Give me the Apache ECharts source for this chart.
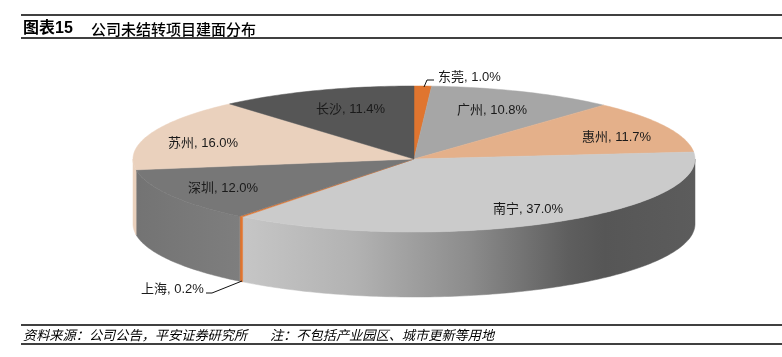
<!DOCTYPE html>
<html>
<head>
<meta charset="utf-8">
<style>
  html, body { margin: 0; padding: 0; background: #fff; }
  #chart { width: 782px; height: 357px; }
</style>
<script src="https://cdn.jsdelivr.net/npm/echarts@6/dist/echarts.min.js"></script>
</head>
<body>
<div id="chart"></div>
<script>
const cities = ['东莞', '广州', '惠州', '南宁', '上海', '深圳', '苏州', '长沙'];
const shares = [1.0, 10.8, 11.7, 37.0, 0.2, 12.0, 16.0, 11.4];

const colors = ['#E0752F', '#A6A6A6', '#E4B08A', '#CBCBCB', '#E0752F', '#777777', '#EAD1BD', '#565656'];
// label position, left edge and vertical middle of the text
const labelPos = [[438, 77], [457, 110], [582, 137], [493, 209], [141, 289], [188, 188], [168, 143], [316, 109]];
const leaders = { 0: [[424, 87], [427, 80], [434, 80]], 4: [[242, 281], [212, 293], [206, 293]] };
const depth = 65;
const labelFont = '13px "Liberation Sans", "Noto Sans CJK SC", sans-serif';

const total = shares.reduce((a, b) => a + b, 0);
let run = 0;
const slices = shares.map((v) => {
  const from = run / total * 360;
  run += v;
  return [from, run / total * 360];
});

const rad = (d) => d * Math.PI / 180;
const rim = (api, deg) => api.coord([Math.sin(rad(deg)), Math.cos(rad(deg))]);
const arc = (api, a, b) => {
  const pts = [];
  const n = Math.max(2, Math.ceil(Math.abs(b - a)));
  for (let i = 0; i <= n; i++) pts.push(rim(api, a + (b - a) * i / n));
  return pts;
};

const wallFill = (i, api) => {
  if (i === 3) {
    const l = rim(api, slices[3][1])[0];
    const r = rim(api, 90)[0];
    return new echarts.graphic.LinearGradient(l, 0, r, 0, [
      { offset: 0, color: '#C6C6C6' },
      { offset: 0.25, color: '#B2B2B2' },
      { offset: 0.5, color: '#8C8C8C' },
      { offset: 0.72, color: '#5E5E5E' },
      { offset: 0.8, color: '#565656' },
      { offset: 1, color: '#5C5C5C' }
    ], true);
  }
  if (i === 5) {
    const l = rim(api, 270)[0];
    const r = rim(api, slices[5][0])[0];
    return new echarts.graphic.LinearGradient(l, 0, r, 0, [
      { offset: 0, color: '#737373' },
      { offset: 1, color: '#7E7E7E' }
    ], true);
  }
  return colors[i];
};

const renderWall = (params, api) => {
  const i = params.dataIndex;
  const a = Math.max(api.value(0), 90);
  const b = Math.min(api.value(1), 270);
  if (b <= a) return null;
  const top = arc(api, a, b);
  const bottom = top.slice().reverse().map((p) => [p[0], p[1] + depth]);
  const fill = wallFill(i, api);
  return {
    type: 'polygon',
    shape: { points: top.concat(bottom) },
    style: { fill: fill, stroke: fill, lineWidth: 0.5 }
  };
};

const renderTop = (params, api) => {
  const i = params.dataIndex;
  const pts = [api.coord([0, 0])].concat(arc(api, api.value(0), api.value(1)));
  const children = [{
    type: 'polygon',
    shape: { points: pts },
    style: { fill: colors[i], stroke: colors[i], lineWidth: 0.5 }
  }];
  if (leaders[i]) {
    children.push({
      type: 'polyline',
      shape: { points: leaders[i] },
      style: { fill: null, stroke: '#111', lineWidth: 1 }
    });
  }
  children.push({
    type: 'text',
    style: {
      text: cities[i] + ', ' + shares[i].toFixed(1) + '%',
      x: labelPos[i][0],
      y: labelPos[i][1],
      fill: '#1a1a1a',
      font: labelFont,
      textAlign: 'left',
      textVerticalAlign: 'middle'
    }
  });
  return { type: 'group', children: children };
};

const rule = (y) => ({
  type: 'line',
  shape: { x1: 21, y1: y, x2: 782, y2: y },
  style: { stroke: '#000', lineWidth: 1.5 }
});
const text = (x, y, s, font) => ({
  type: 'text',
  x: x,
  y: y,
  style: { text: s, font: font, fill: '#000', textVerticalAlign: 'middle' }
});

const chart = echarts.init(document.getElementById('chart'));
chart.setOption({
  animation: false,
  backgroundColor: '#fff',
  grid: { left: 133, width: 562, top: 86, height: 146 },
  xAxis: { type: 'value', min: -1, max: 1, show: false },
  yAxis: { type: 'value', min: -1, max: 1, show: false },
  graphic: [
    rule(15), rule(38), rule(325), rule(344),
    text(23, 29, '图表15', 'bold 16px "Liberation Sans", "Noto Sans CJK SC", sans-serif'),
    text(91, 29, '公司未结转项目建面分布', '500 15px "Noto Sans CJK SC", sans-serif'),
    text(23, 335, '资料来源：公司公告，平安证券研究所', 'italic 13.2px "Noto Sans CJK SC", sans-serif'),
    text(270, 335, '注：不包括产业园区、城市更新等用地', 'italic 13.2px "Noto Sans CJK SC", sans-serif')
  ],
  series: [
    { type: 'custom', silent: true, clip: false, renderItem: renderWall, data: slices },
    { type: 'custom', silent: true, clip: false, renderItem: renderTop, data: slices }
  ]
});
</script>
</body>
</html>
